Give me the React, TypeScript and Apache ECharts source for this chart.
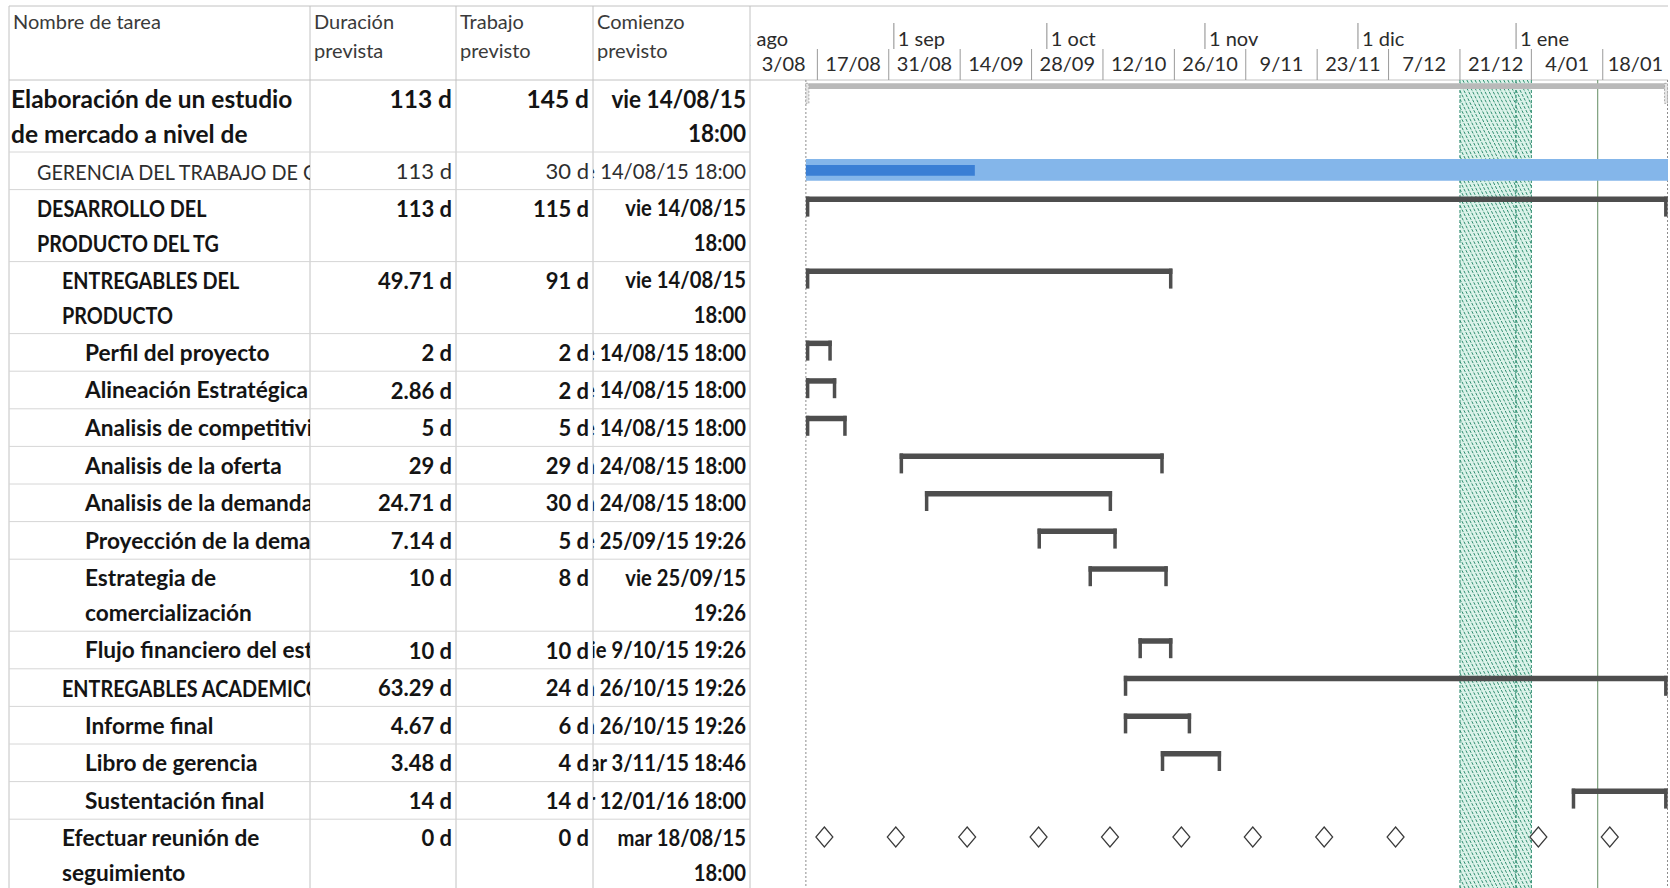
import React, { useEffect, useRef } from "react";
import * as echarts from "echarts";

// ---------------- DATA ----------------
const columnHeaders: string[][] = [
  ["Nombre de tarea"],
  ["Duración", "prevista"],
  ["Trabajo", "previsto"],
  ["Comienzo", "previsto"],
];

const taskNames: string[][] = [
  ["Elaboración de un estudio", "de mercado a nivel de"],
  ["GERENCIA DEL TRABAJO DE GRADO"],
  ["DESARROLLO DEL", "PRODUCTO DEL TG"],
  ["ENTREGABLES DEL", "PRODUCTO"],
  ["Perfil del proyecto"],
  ["Alineación Estratégica"],
  ["Analisis de competitividad"],
  ["Analisis de la oferta"],
  ["Analisis de la demanda"],
  ["Proyección de la demanda"],
  ["Estrategia de", "comercialización"],
  ["Flujo financiero del estudio"],
  ["ENTREGABLES ACADEMICOS"],
  ["Informe final"],
  ["Libro de gerencia"],
  ["Sustentación final"],
  ["Efectuar reunión de", "seguimiento"],
];
const outlineLevels = [0, 1, 1, 2, 3, 3, 3, 3, 3, 3, 3, 3, 2, 3, 3, 3, 2];
const boldRows = [true, false, true, true, true, true, true, true, true, true, true, true, true, true, true, true, true];
const durations = ["113 d", "113 d", "113 d", "49.71 d", "2 d", "2.86 d", "5 d", "29 d", "24.71 d", "7.14 d", "10 d", "10 d", "63.29 d", "4.67 d", "3.48 d", "14 d", "0 d"];
const works = ["145 d", "30 d", "115 d", "91 d", "2 d", "2 d", "5 d", "29 d", "30 d", "5 d", "8 d", "10 d", "24 d", "6 d", "4 d", "14 d", "0 d"];
const startTexts: string[][] = [
  ["vie 14/08/15", "18:00"],
  ["vie 14/08/15 18:00"],
  ["vie 14/08/15", "18:00"],
  ["vie 14/08/15", "18:00"],
  ["vie 14/08/15 18:00"],
  ["vie 14/08/15 18:00"],
  ["vie 14/08/15 18:00"],
  ["lun 24/08/15 18:00"],
  ["lun 24/08/15 18:00"],
  ["vie 25/09/15 19:26"],
  ["vie 25/09/15", "19:26"],
  ["vie 9/10/15 19:26"],
  ["lun 26/10/15 19:26"],
  ["lun 26/10/15 19:26"],
  ["mar 3/11/15 18:46"],
  ["mar 12/01/16 18:00"],
  ["mar 18/08/15", "18:00"],
];

const barKinds = ["project", "task", "summary", "summary", "summary", "summary", "summary", "summary", "summary", "summary", "summary", "summary", "summary", "summary", "summary", "summary", "recurring"];
const barStarts = [
  "2015-08-14T18:00", "2015-08-14T18:00", "2015-08-14T18:00", "2015-08-14T18:00",
  "2015-08-14T18:00", "2015-08-14T18:00", "2015-08-14T18:00", "2015-09-02T03:00",
  "2015-09-07T02:00", "2015-09-29T04:00", "2015-10-09T04:00", "2015-10-18T23:00",
  "2015-10-16T02:00", "2015-10-16T02:00", "2015-10-23T08:00", "2016-01-11T22:00",
  "2015-08-18T09:00",
];
const barEnds = [
  "2016-01-30T17:00", "2016-02-10T00:00", "2016-01-30T17:00", "2015-10-25T15:00",
  "2015-08-19T20:00", "2015-08-20T17:00", "2015-08-22T18:00", "2015-10-23T22:00",
  "2015-10-13T19:00", "2015-10-14T17:00", "2015-10-24T17:00", "2015-10-25T15:00",
  "2016-01-30T17:00", "2015-10-29T07:00", "2015-11-04T04:00", "2016-01-30T17:00",
  "2016-01-19T09:00",
];
const progressEnds: (string | null)[] = [null, "2015-09-16T21:00", null, null, null, null, null, null, null, null, null, null, null, null, null, null, null];
const meetingDates = [
  "2015-08-18T09:00", "2015-09-01T09:00", "2015-09-15T09:00", "2015-09-29T09:00",
  "2015-10-13T09:00", "2015-10-27T09:00", "2015-11-10T09:00", "2015-11-24T09:00",
  "2015-12-08T09:00", "2016-01-05T09:00", "2016-01-19T09:00",
];

const weekTicks = ["2015-08-03", "2015-08-17", "2015-08-31", "2015-09-14", "2015-09-28", "2015-10-12", "2015-10-26", "2015-11-09", "2015-11-23", "2015-12-07", "2015-12-21", "2016-01-04", "2016-01-18", "2016-02-01"];
const weekLabels = ["3/08", "17/08", "31/08", "14/09", "28/09", "12/10", "26/10", "9/11", "23/11", "7/12", "21/12", "4/01", "18/01"];
const monthTicks = ["2015-08-01", "2015-09-01", "2015-10-01", "2015-11-01", "2015-12-01", "2016-01-01"];
const monthLabels = ["1 ago", "1 sep", "1 oct", "1 nov", "1 dic", "1 ene"];

const nonWorkingStarts = ["2015-12-21", "2016-01-01"];
const nonWorkingEnds = ["2016-01-01", "2016-01-04"];
const projectStart = "2015-08-14T18:00";
const projectFinish = "2016-01-30T17:00";
const statusDate = "2016-01-17T00:00";

const AXIS_MIN = "2015-08-03T19:00";
const AXIS_MAX = "2016-01-30T19:00";

// ---------------- LAYOUT ----------------
const FONT = "Lato, 'Open Sans', sans-serif";
const TOP = 6;
const BODY_TOP = 80;
const BODY_H = 808;
const COLS = [9, 310, 456, 593, 750];
const GANTT_RIGHT = 1668;
const SINGLE_ROW = 37.6;
const DOUBLE_ROW = 72;
const INDENT = [2, 28, 53, 76];

const t = (s: string) => new Date(s).getTime();

const rowHeights = taskNames.map((l) => (l.length === 2 ? DOUBLE_ROW : SINGLE_ROW));
const rowTops: number[] = [];
{
  let acc = 0;
  rowHeights.forEach((h) => {
    rowTops.push(acc);
    acc += h;
  });
}

const lineY = (nLines: number, k: number) => (nLines === 1 ? 18.8 : k === 0 ? 18.5 : 53);
const isCaps = (s: string) => s === s.toUpperCase() && /[A-Z]/.test(s);

const txt = (
  text: string,
  x: number,
  y: number,
  size: number,
  weight: string,
  fill: string,
  align: string,
  sx = 1
) => ({
  type: "text",
  x,
  y,
  scaleX: sx,
  scaleY: 1,
  style: {
    text,
    x: 0,
    y: 0,
    fill,
    fontSize: size,
    fontFamily: FONT,
    fontWeight: weight,
    align,
    verticalAlign: "middle",
    textAlign: align,
    textVerticalAlign: "middle",
  },
});

export default function App() {
  const ref = useRef<HTMLDivElement>(null);

  useEffect(() => {
    const el = ref.current;
    if (!el) return;
    const chart = echarts.init(el, null, { renderer: "svg" });

    const rowData = taskNames.map((_, i) => [0.5, rowTops[i], i]);
    const tMin = t(AXIS_MIN);
    const tMax = t(AXIS_MAX);

    const grids = [
      { left: COLS[4], top: BODY_TOP, width: GANTT_RIGHT - COLS[4], height: BODY_H }, // 0 gantt
      { left: COLS[4], top: TOP, width: GANTT_RIGHT - COLS[4], height: BODY_TOP - TOP }, // 1 timescale
      { left: COLS[0], top: BODY_TOP, width: COLS[1] - COLS[0], height: BODY_H }, // 2 name
      { left: COLS[1], top: BODY_TOP, width: COLS[2] - COLS[1], height: BODY_H }, // 3 duration
      { left: COLS[2], top: BODY_TOP, width: COLS[3] - COLS[2], height: BODY_H }, // 4 work
      { left: COLS[3], top: BODY_TOP, width: COLS[4] - COLS[3], height: BODY_H }, // 5 start
      { left: COLS[0], top: BODY_TOP, width: COLS[4] - COLS[0], height: BODY_H }, // 6 table lines
    ];
    const xAxes = grids.map((_, gi) =>
      gi <= 1
        ? { type: "value", gridIndex: gi, min: tMin, max: tMax, show: false, splitLine: { show: false } }
        : { type: "value", gridIndex: gi, min: 0, max: 1, show: false, splitLine: { show: false } }
    );
    const yAxes = grids.map((_, gi) => ({
      type: "value",
      gridIndex: gi,
      inverse: true,
      min: 0,
      max: gi === 1 ? BODY_TOP - TOP : BODY_H,
      show: false,
      splitLine: { show: false },
    }));

    const series: any[] = [];

    // Table row separator lines
    series.push({
      type: "custom",
      xAxisIndex: 6,
      yAxisIndex: 6,
      silent: true,
      data: rowData,
      renderItem: (params: any, api: any) => {
        const i = api.value(2);
        const cs = params.coordSys;
        const yb = api.coord([0, rowTops[i] + rowHeights[i]])[1];
        return {
          type: "line",
          shape: { x1: cs.x, y1: yb, x2: cs.x + cs.width, y2: yb },
          style: { stroke: "#d6d6d6", lineWidth: 1 },
        };
      },
    });

    // Name column
    series.push({
      type: "custom",
      xAxisIndex: 2,
      yAxisIndex: 2,
      clip: true,
      silent: true,
      data: rowData,
      renderItem: (params: any, api: any) => {
        const i = api.value(2);
        const cs = params.coordSys;
        const top = api.coord([0, rowTops[i]])[1];
        const lines = taskNames[i];
        const lvl = outlineLevels[i];
        const size = lvl === 0 ? 24.5 : 22;
        return {
          type: "group",
          children: lines.map((s, k) =>
            txt(
              s,
              cs.x + INDENT[lvl],
              top + lineY(lines.length, k),
              size,
              boldRows[i] ? "bold" : "normal",
              boldRows[i] ? "#141414" : "#2e2e2e",
              "left",
              isCaps(s) ? 0.9 : lvl === 0 ? 1.0 : 1.03
            )
          ),
        };
      },
    });

    // Right aligned columns
    const rightCol = (gi: number, values: string[][], sx: number) => ({
      type: "custom",
      xAxisIndex: gi,
      yAxisIndex: gi,
      clip: true,
      silent: true,
      data: rowData,
      renderItem: (params: any, api: any) => {
        const i = api.value(2);
        const cs = params.coordSys;
        const top = api.coord([0, rowTops[i]])[1];
        const lines = values[i];
        const nRow = taskNames[i].length;
        const size = outlineLevels[i] === 0 ? 24.5 : 22;
        return {
          type: "group",
          children: lines.map((s, k) =>
            txt(
              s,
              cs.x + cs.width - 4,
              top + lineY(nRow === 2 ? 2 : 1, k),
              size,
              boldRows[i] ? "bold" : "normal",
              boldRows[i] ? "#141414" : "#2e2e2e",
              "right",
              sx
            )
          ),
        };
      },
    });
    series.push(rightCol(3, durations.map((d) => [d]), 1));
    series.push(rightCol(4, works.map((d) => [d]), 1));
    series.push(rightCol(5, startTexts, 0.92));

    // Non-working hatched band
    series.push({
      type: "custom",
      xAxisIndex: 0,
      yAxisIndex: 0,
      clip: true,
      silent: true,
      z: 1,
      data: nonWorkingStarts.map((s, i) => [t(s), 0, t(nonWorkingEnds[i])]),
      renderItem: (params: any, api: any) => {
        const cs = params.coordSys;
        const x1 = api.coord([api.value(0), 0])[0];
        const x2 = api.coord([api.value(2), 0])[0];
        const yT = cs.y;
        const yB = cs.y + cs.height;
        const children: any[] = [
          { type: "rect", shape: { x: x1, y: yT, width: x2 - x1, height: yB - yT }, style: { fill: "#dcf3ea" } },
        ];
        const step = 8.2;
        for (let k = yT - 2 * x2; k <= yB - 2 * x1; k += step) {
          const ya = Math.max(yT, k + 2 * x1);
          const yb = Math.min(yB, k + 2 * x2);
          if (yb <= ya) continue;
          children.push({
            type: "line",
            shape: { x1: (ya - k) / 2, y1: ya, x2: (yb - k) / 2, y2: yb },
            style: { stroke: "#2f8e70", lineWidth: 1, lineDash: [3, 1.4] },
          });
        }
        [x1, x2].forEach((x) =>
          children.push({
            type: "line",
            shape: { x1: x, y1: yT, x2: x, y2: yB },
            style: { stroke: "#2f8e70", lineWidth: 1, lineDash: [3, 2] },
          })
        );
        return { type: "group", children };
      },
    });

    // Vertical markers: project start / finish (dotted), status date (green)
    const markerDates = [projectStart, projectFinish, statusDate];
    series.push({
      type: "custom",
      xAxisIndex: 0,
      yAxisIndex: 0,
      clip: false,
      silent: true,
      z: 2,
      data: markerDates.map((d, i) => [t(d), 0, i]),
      renderItem: (params: any, api: any) => {
        const cs = params.coordSys;
        const i = api.value(2);
        const x = Math.min(api.coord([api.value(0), 0])[0], cs.x + cs.width - 0.5);
        const green = i === 2;
        return {
          type: "line",
          shape: { x1: x, y1: cs.y, x2: x, y2: cs.y + cs.height },
          style: green
            ? { stroke: "#7c9f7c", lineWidth: 1.2 }
            : { stroke: "#8c8c8c", lineWidth: 1, lineDash: [2, 2] },
        };
      },
    });

    // Gantt bars
    series.push({
      type: "custom",
      xAxisIndex: 0,
      yAxisIndex: 0,
      clip: true,
      silent: true,
      z: 3,
      data: taskNames.map((_, i) => [t(barStarts[i]), rowTops[i], i]),
      renderItem: (params: any, api: any) => {
        const i = api.value(2);
        const top = api.coord([tMin, rowTops[i]])[1];
        const xs = api.coord([t(barStarts[i]), 0])[0];
        const xe = api.coord([t(barEnds[i]), 0])[0];
        const kind = barKinds[i];
        const children: any[] = [];
        if (kind === "project") {
          children.push({ type: "rect", shape: { x: xs, y: top + 3.3, width: xe - xs, height: 5.7 }, style: { fill: "#b9b9b9" } });
          [xs, xe - 3].forEach((x) =>
            children.push({
              type: "rect",
              shape: { x, y: top + 3.3, width: 3, height: 20 },
              style: { fill: "#e6e6e6", stroke: "#a8a8a8", lineWidth: 1, lineDash: [2, 1.5] },
            })
          );
        } else if (kind === "task") {
          children.push({ type: "rect", shape: { x: xs, y: top + 7, width: xe - xs, height: 21.7 }, style: { fill: "#84b6ea" } });
          const pe = progressEnds[i];
          if (pe) {
            const xp = api.coord([t(pe), 0])[0];
            children.push({ type: "rect", shape: { x: xs, y: top + 13, width: xp - xs, height: 10.7 }, style: { fill: "#3a7fd5" } });
          }
        } else if (kind === "summary") {
          const c = "#4e4e4e";
          children.push({ type: "rect", shape: { x: xs, y: top + 7, width: xe - xs, height: 5.5 }, style: { fill: c } });
          children.push({ type: "rect", shape: { x: xs, y: top + 7, width: 3.5, height: 20 }, style: { fill: c } });
          children.push({ type: "rect", shape: { x: xe - 3.5, y: top + 7, width: 3.5, height: 20 }, style: { fill: c } });
        } else if (kind === "recurring") {
          const cy = top + 17.8;
          meetingDates.forEach((d) => {
            const x = api.coord([t(d), 0])[0];
            children.push({
              type: "polygon",
              shape: { points: [[x, cy - 10], [x + 8.5, cy], [x, cy + 10], [x - 8.5, cy]] },
              style: { fill: "#ffffff", stroke: "#3a3a3a", lineWidth: 1.2 },
            });
          });
        }
        return { type: "group", children };
      },
    });

    // Timescale: weeks (bottom tier)
    series.push({
      type: "custom",
      xAxisIndex: 1,
      yAxisIndex: 1,
      clip: true,
      silent: true,
      data: weekLabels.map((_, i) => [t(weekTicks[i]), 0, i]),
      renderItem: (params: any, api: any) => {
        const i = api.value(2);
        const cs = params.coordSys;
        const xa = api.coord([t(weekTicks[i]), 0])[0];
        const xb = api.coord([t(weekTicks[i + 1]), 0])[0];
        const va = Math.max(xa, cs.x);
        const vb = Math.min(xb, cs.x + cs.width);
        return {
          type: "group",
          children: [
            { type: "line", shape: { x1: xa, y1: cs.y + 43, x2: xa, y2: cs.y + cs.height }, style: { stroke: "#9a9a9a", lineWidth: 1 } },
            txt(weekLabels[i], (va + vb) / 2, cs.y + 57, 20, "normal", "#2b2b2b", "center"),
          ],
        };
      },
    });

    // Timescale: months (top tier)
    series.push({
      type: "custom",
      xAxisIndex: 1,
      yAxisIndex: 1,
      clip: true,
      silent: true,
      data: monthLabels.map((_, i) => [t(monthTicks[i]), 0, i]),
      renderItem: (params: any, api: any) => {
        const i = api.value(2);
        const cs = params.coordSys;
        const xa = api.coord([t(monthTicks[i]), 0])[0];
        return {
          type: "group",
          children: [
            { type: "line", shape: { x1: xa, y1: cs.y + 17, x2: xa, y2: cs.y + 43 }, style: { stroke: "#8a8a8a", lineWidth: 1 } },
            txt(monthLabels[i], xa + 4, cs.y + 32, 20, "normal", "#2b2b2b", "left"),
          ],
        };
      },
    });

    // Static frame + table headers
    const graphic: any[] = [];
    const border = "#c2c2c2";
    graphic.push({ type: "line", shape: { x1: COLS[0], y1: TOP, x2: GANTT_RIGHT, y2: TOP }, style: { stroke: border, lineWidth: 1 } });
    graphic.push({ type: "line", shape: { x1: COLS[0], y1: BODY_TOP, x2: GANTT_RIGHT, y2: BODY_TOP }, style: { stroke: border, lineWidth: 1 } });
    COLS.forEach((x) =>
      graphic.push({ type: "line", shape: { x1: x, y1: TOP, x2: x, y2: 888 }, style: { stroke: border, lineWidth: 1 } })
    );
    columnHeaders.forEach((lines, c) => {
      lines.forEach((s, k) => {
        graphic.push({
          type: "text",
          x: COLS[c] + 4,
          y: k === 0 ? 21 : 50,
          style: { text: s, fill: "#3a3a3a", fontSize: 20, fontFamily: FONT, textAlign: "left", textVerticalAlign: "middle", align: "left", verticalAlign: "middle" },
        });
      });
    });

    chart.setOption({
      animation: false,
      backgroundColor: "#ffffff",
      grid: grids,
      xAxis: xAxes,
      yAxis: yAxes,
      series,
      graphic,
    });

    return () => chart.dispose();
  }, []);

  return (
    <div
      ref={ref}
      style={{ position: "fixed", left: 0, top: 0, width: 1670, height: 888, background: "#fff" }}
    />
  );
}
